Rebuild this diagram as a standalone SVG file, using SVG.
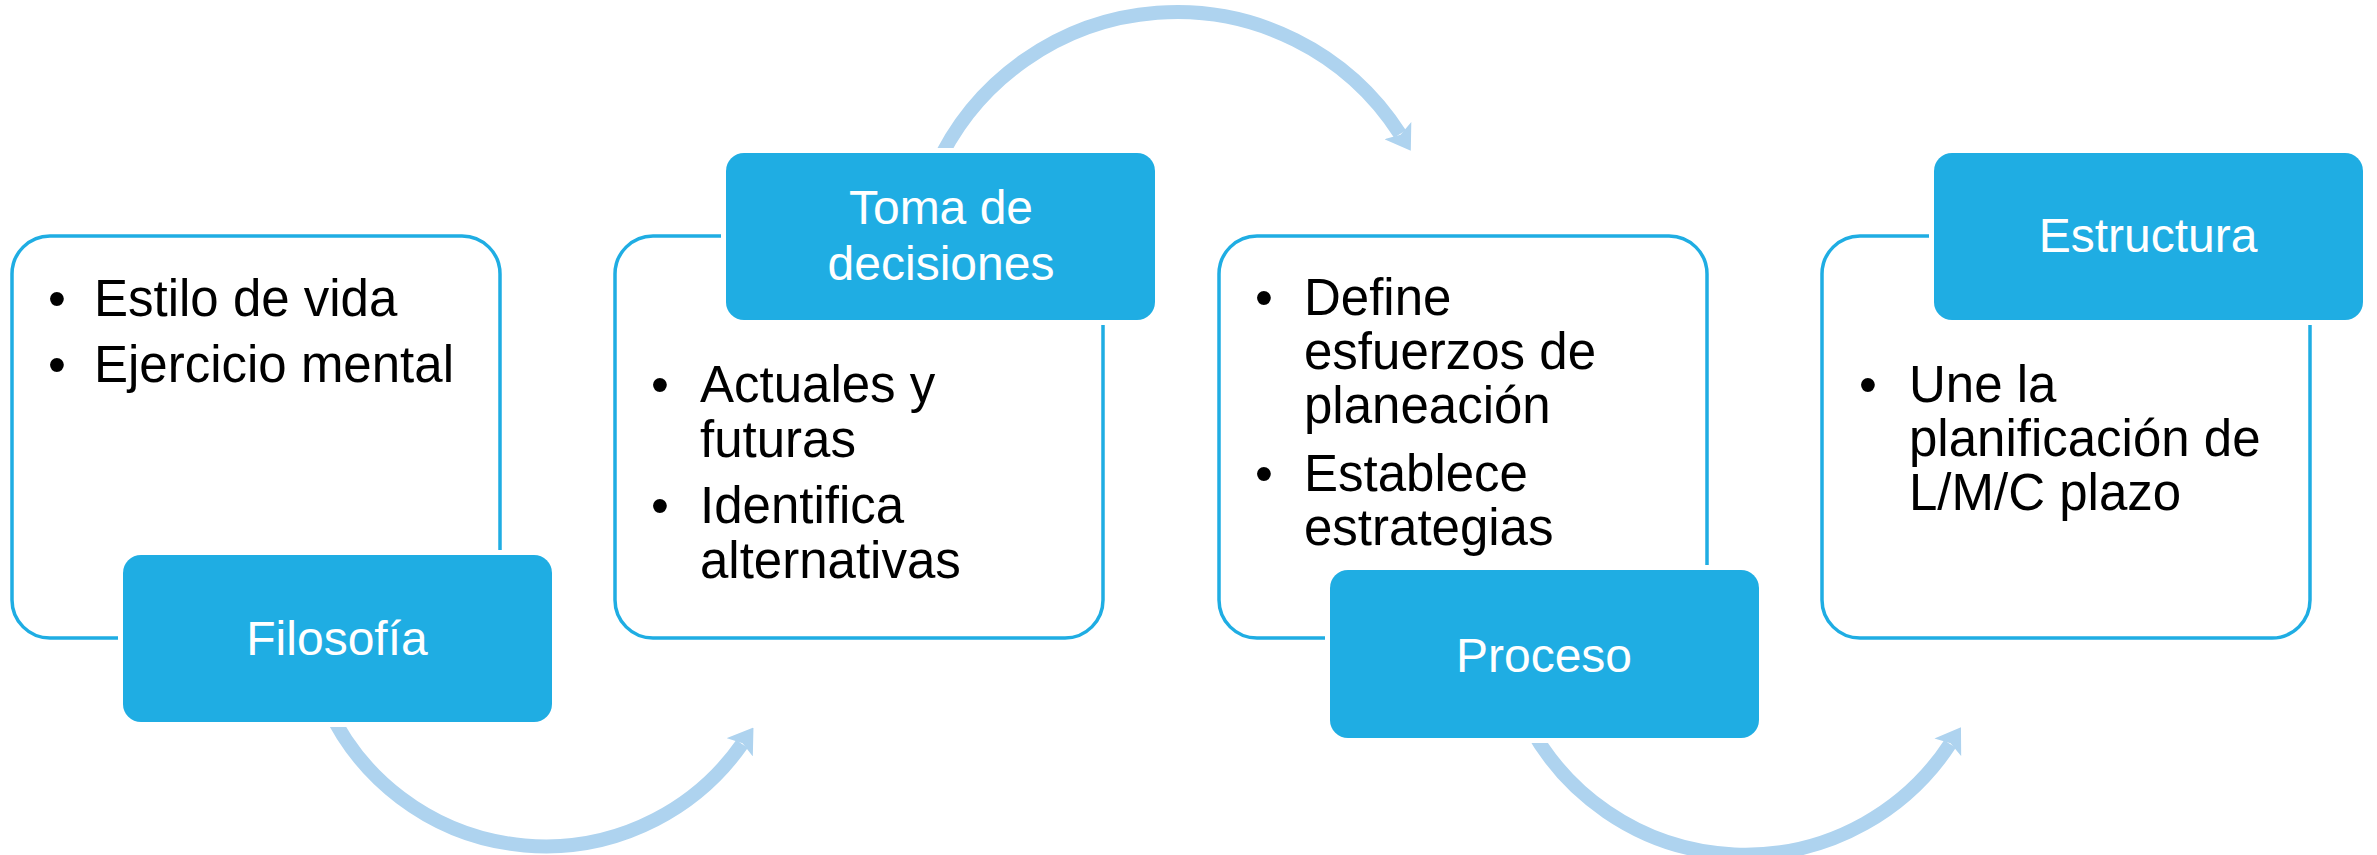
<svg xmlns="http://www.w3.org/2000/svg" width="2377" height="855" viewBox="0 0 2377 855">
<style>
.card{fill:#ffffff;stroke:#1FADE3;stroke-width:3.5}
.head{fill:#1FADE3;stroke:#ffffff;stroke-width:10;paint-order:stroke}
.ht{font-family:"Liberation Sans",Arial,sans-serif;font-size:48px;fill:#ffffff;text-anchor:middle}
.bt{font-family:"Liberation Sans",Arial,sans-serif;font-size:51px;fill:#000000}
.bu{font-family:"Liberation Sans",Arial,sans-serif;font-size:51px;fill:#000000;text-anchor:middle}
.arc{fill:none;stroke:#AED3EF;stroke-width:14;marker-end:url(#ah)}
</style>
<defs>
<marker id="ah" markerUnits="userSpaceOnUse" viewBox="0 0 24 32" markerWidth="24" markerHeight="32" refX="4" refY="16" orient="auto">
<path d="M0,0 L24,16 L0,32 L5,16 Z" fill="#AED3EF"/>
</marker>
</defs>
<rect width="2377" height="855" fill="#ffffff"/>
<g id="connectors">
<path class="arc" d="M328,708 A240,240 0 0 0 742,744"/>
<path class="arc" d="M935,169 A265,265 0 0 1 1400,134"/>
<path class="arc" d="M1529,725 A245,245 0 0 0 1950,744"/>
</g>
<g id="node-filosofia">
<rect class="card" x="12" y="236" width="488" height="402" rx="38"/>
<text class="bu" x="57" y="316">•</text><text class="bt" x="94" y="316">Estilo de vida</text>
<text class="bu" x="57" y="382">•</text><text class="bt" x="94" y="382">Ejercicio mental</text>
<rect class="head" x="123" y="555" width="429" height="167" rx="18"/>
<text class="ht" x="337" y="655">Filosofía</text>
</g>
<g id="node-toma">
<rect class="card" x="615" y="236" width="488" height="402" rx="38"/>
<text class="bu" x="660" y="402">•</text><text class="bt" x="700" y="402">Actuales y</text>
<text class="bt" x="700" y="457">futuras</text>
<text class="bu" x="660" y="523">•</text><text class="bt" x="700" y="523">Identifica</text>
<text class="bt" x="700" y="578">alternativas</text>
<rect class="head" x="726" y="153" width="429" height="167" rx="18"/>
<text class="ht" x="941" y="224">Toma de</text>
<text class="ht" x="941" y="280">decisiones</text>
</g>
<g id="node-proceso">
<rect class="card" x="1219" y="236" width="488" height="402" rx="38"/>
<text class="bu" x="1264" y="315">•</text><text class="bt" x="1304" y="315">Define</text>
<text class="bt" x="1304" y="369">esfuerzos de</text>
<text class="bt" x="1304" y="423">planeación</text>
<text class="bu" x="1264" y="491">•</text><text class="bt" x="1304" y="491">Establece</text>
<text class="bt" x="1304" y="545">estrategias</text>
<rect class="head" x="1330" y="570" width="429" height="168" rx="18"/>
<text class="ht" x="1544" y="672">Proceso</text>
</g>
<g id="node-estructura">
<rect class="card" x="1822" y="236" width="488" height="402" rx="38"/>
<text class="bu" x="1868" y="402">•</text><text class="bt" x="1909" y="402">Une la</text>
<text class="bt" x="1909" y="456">planificación de</text>
<text class="bt" x="1909" y="510">L/M/C plazo</text>
<rect class="head" x="1934" y="153" width="429" height="167" rx="18"/>
<text class="ht" x="2148" y="252">Estructura</text>
</g>
</svg>
